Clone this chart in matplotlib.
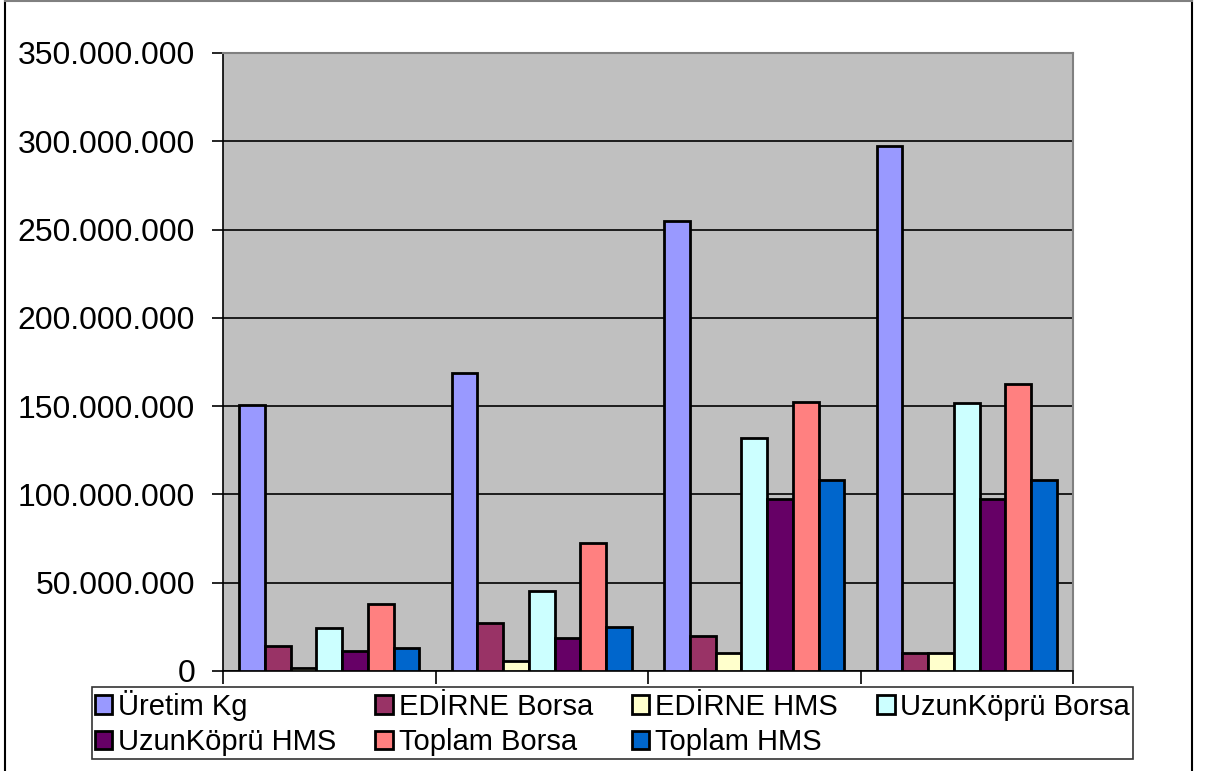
import matplotlib.pyplot as plt
from matplotlib.lines import Line2D
import numpy as np

plt.rcParams['font.family'] = ['Liberation Sans', 'DejaVu Sans']

groups = ["1", "2", "3", "4"]
series = ["Üretim Kg", "EDİRNE Borsa", "EDİRNE HMS", "UzunKöprü Borsa",
          "UzunKöprü HMS", "Toplam Borsa", "Toplam HMS"]
uretim = [150.6e6, 169e6, 254.8e6, 297.3e6]
edirne_borsa = [14.2e6, 27.2e6, 19.8e6, 10e6]
edirne_hms = [1.7e6, 5.6e6, 10e6, 10e6]
uzun_borsa = [24.2e6, 45.5e6, 131.8e6, 151.6e6]
uzun_hms = [11.5e6, 18.9e6, 97.4e6, 97.4e6]
toplam_borsa = [37.9e6, 72.5e6, 152.3e6, 162.3e6]
toplam_hms = [13.2e6, 24.7e6, 108.2e6, 108.2e6]
values = [uretim, edirne_borsa, edirne_hms, uzun_borsa, uzun_hms, toplam_borsa, toplam_hms]
colors = ["#9999FF", "#993366", "#FFFFCC", "#CCFFFF", "#660066", "#FF8080", "#0066CC"]

fig = plt.figure(figsize=(12.05, 7.71), dpi=100)
ax = fig.add_axes([223/1205, 1-671/771, (1073-223)/1205, (671-53)/771])
ax.set_facecolor("#C0C0C0")

x = np.arange(len(groups))
w = 0.121
bars = []
for j, (name, vals, c) in enumerate(zip(series, values, colors)):
    b = ax.bar(x + (j - 3) * w, vals, w, color=c, edgecolor="black", linewidth=2,
               label=name, zorder=3)
    bars.append(b)

ax.set_xlim(-0.5, 3.5)
ax.set_ylim(0, 350e6)
ax.set_yticks(np.arange(0, 350e6 + 1, 50e6))
ax.set_yticklabels([f"{int(v):,}".replace(",", ".") for v in ax.get_yticks()], fontsize=23)
ax.set_xticks(np.arange(-0.5, 3.6, 1))
ax.set_xticklabels([])
ax.tick_params(axis="y", direction="out", length=8, width=1.2, pad=12)
ax.tick_params(axis="x", direction="out", length=9, width=1.2)
ax.grid(axis="y", color="black", linewidth=1.2, zorder=1)
ax.set_axisbelow(True)
for s in ["left", "bottom"]:
    ax.spines[s].set_color("black")
    ax.spines[s].set_linewidth(1.2)
for s in ["top", "right"]:
    ax.spines[s].set_color("#808080")
    ax.spines[s].set_linewidth(1.5)

# legend is filled column by column, so reorder to read row by row
order = [0, 4, 1, 5, 2, 6, 3]
leg = fig.legend([bars[i] for i in order], [series[i] for i in order],
                 loc="lower left", ncol=4, mode="expand",
                 bbox_to_anchor=(92/1205, 1-759/771, (1133-92)/1205, 70/771),
                 fontsize=21, frameon=True, fancybox=False, edgecolor="black",
                 handlelength=0.6, handleheight=0.6, handletextpad=0.2,
                 borderpad=0.1, labelspacing=0.25, columnspacing=0.5,
                 borderaxespad=0)
leg.get_frame().set_linewidth(1.2)

fig.add_artist(Line2D([5/1205, 5/1205], [0, 1], color="black", linewidth=1.5))
fig.add_artist(Line2D([1192/1205, 1192/1205], [0, 1], color="black", linewidth=1.5))
fig.add_artist(Line2D([5/1205, 1192/1205], [1-1/771, 1-1/771], color="#808080", linewidth=1.5))

fig.savefig("out.png", dpi=100)
